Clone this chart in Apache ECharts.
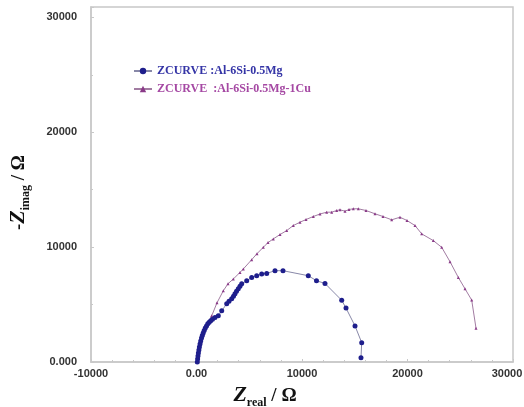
<!DOCTYPE html>
<html>
<head>
<meta charset="utf-8">
<script src="https://cdn.jsdelivr.net/npm/echarts@6/dist/echarts.min.js"></script>
<style>
  html, body { margin: 0; padding: 0; background: #fff; }
  #chart { width: 524px; height: 407px; }
</style>
</head>
<body>
<div id="chart"></div>
<script>
// 两条阻抗谱曲线（Nyquist），数值为从图上读取的估计值 [Zreal, -Zimag]
const seriesNames = ["ZCURVE :Al-6Si-0.5Mg", "ZCURVE  :Al-6Si-0.5Mg-1Cu"];

const mgPoints = [
  [76, 0], [104, 262], [142, 524], [180, 786], [227, 1048], [275, 1310],
  [332, 1572], [398, 1834], [474, 2096], [550, 2315], [635, 2533], [730, 2751],
  [834, 2969], [948, 3144], [1071, 3319], [1204, 3467], [1346, 3598], [1517, 3712],
  [1754, 3869], [2066, 4017], [2389, 4454], [2863, 5066], [3081, 5284], [3336, 5502],
  [3507, 5721], [3649, 5939], [3792, 6158], [3962, 6376], [4123, 6594], [4284, 6812],
  [4758, 7074], [5232, 7362], [5706, 7511], [6180, 7660], [6654, 7712], [7441, 7948],
  [8199, 7948], [10597, 7511], [11374, 7074], [12180, 6838], [13763, 5371],
  [14171, 4690], [15024, 3144], [15659, 1686], [15592, 376]
];

const cuPoints = [
  [50, 0], [142, 524], [284, 1135], [427, 1747], [616, 2358], [806, 2882],
  [1090, 3406], [1441, 4017], [1943, 5153], [2540, 6201], [2986, 6812], [3488, 7223],
  [4123, 7799], [4436, 8096], [5232, 8908], [5735, 9432], [6332, 9983], [6777, 10393],
  [7280, 10716], [7915, 11092], [8550, 11441], [9175, 11878], [9810, 12166],
  [10379, 12402], [11071, 12664], [11706, 12882], [12341, 13039], [12815, 13039],
  [13289, 13188], [13602, 13249], [14076, 13127], [14455, 13275], [14863, 13336],
  [15336, 13336], [16066, 13188], [16919, 12900], [17678, 12664], [18502, 12376],
  [19289, 12603], [19953, 12314], [20711, 11878], [21346, 11153], [22445, 10568],
  [23242, 9983], [24028, 8734], [24815, 7362], [25450, 6376], [26085, 5389],
  [26493, 2943]
];

// 坐标轴刻度
const xTicks = { min: -10000, max: 30000, step: 10000 };
const yTicks = { min: 0, max: 30900, step: 10000 };

const colors = {
  mgMark: "#1e1e8c",
  mgLine: "#8888a8",
  mgText: "#3434a6",
  cuMark: "#8a3a88",
  cuLine: "#a27ca2",
  cuText: "#a548a3",
  frame: "#c8c8c8",
  label: "#333333"
};

const chart = echarts.init(document.getElementById("chart"));

const tickLabel = {
  color: colors.label,
  fontFamily: "Liberation Sans",
  fontWeight: "bold",
  fontSize: 11
};

const nameRich = {
  a: { fontFamily: "Liberation Serif", fontWeight: "bold", fontSize: 19, color: "#111", verticalAlign: "bottom" },
  z: { fontFamily: "Liberation Serif", fontStyle: "italic", fontWeight: "bold", fontSize: 22, color: "#111", verticalAlign: "bottom" },
  s: { fontFamily: "Liberation Serif", fontWeight: "bold", fontSize: 12, color: "#111", verticalAlign: "bottom", padding: [0, 0, -3, 0] },
  n: { fontFamily: "Liberation Serif", fontWeight: "bold", fontSize: 19, color: "#111", verticalAlign: "bottom" }
};

const option = {
  animation: false,
  backgroundColor: "#ffffff",
  grid: {
    left: 91,
    right: 11,
    top: 7,
    bottom: 45,
    show: true,
    borderColor: colors.frame,
    borderWidth: 1.5,
    outerBoundsMode: "none"
  },
  legend: {
    orient: "vertical",
    left: 128,
    top: 60,
    itemGap: 6,
    itemWidth: 18,
    itemHeight: 8,
    textStyle: {
      fontFamily: "Liberation Serif",
      fontWeight: "bold",
      fontSize: 12
    },
    data: [
      { name: seriesNames[0], textStyle: { color: colors.mgText } },
      { name: seriesNames[1], textStyle: { color: colors.cuText } }
    ]
  },
  xAxis: {
    type: "value",
    min: xTicks.min,
    max: xTicks.max,
    interval: xTicks.step,
    name: "{z|Z}{s|real}{n| / Ω}",
    nameLocation: "middle",
    nameGap: 19,
    nameTextStyle: { padding: [0, 74, 0, 0], rich: nameRich },
    axisLine: { onZero: false, lineStyle: { color: colors.frame, width: 1.5 } },
    axisTick: { inside: true, length: 3, lineStyle: { color: colors.frame } },
    minorTick: { show: true, splitNumber: 5, length: 2, lineStyle: { color: colors.frame } },
    splitLine: { show: false },
    axisLabel: Object.assign({}, tickLabel, {
      margin: 6,
      formatter: v => (v === 0 ? "0.00" : v === xTicks.max ? "{m|" + v + "}" : String(v)),
      rich: { m: Object.assign({}, tickLabel, { padding: [0, 12, 0, 0] }) }
    })
  },
  yAxis: {
    type: "value",
    min: yTicks.min,
    max: yTicks.max,
    interval: yTicks.step,
    name: "{a|-}{z|Z}{s|imag}{n| / Ω}",
    nameLocation: "middle",
    nameGap: 62,
    nameTextStyle: { padding: [0, 16, 0, 0], rich: nameRich },
    axisLine: { onZero: false, lineStyle: { color: colors.frame, width: 1.5 } },
    axisTick: { inside: true, length: 3, lineStyle: { color: colors.frame } },
    minorTick: { show: true, splitNumber: 2, length: 2, lineStyle: { color: colors.frame } },
    splitLine: { show: false },
    axisLabel: Object.assign({}, tickLabel, {
      margin: 14,
      showMaxLabel: false,
      formatter: v => (v === 0 ? "0.000" : String(v))
    })
  },
  series: [
    {
      name: seriesNames[1],
      type: "line",
      data: cuPoints,
      symbol: "triangle",
      symbolSize: 3,
      showAllSymbol: true,
      itemStyle: { color: colors.cuMark },
      lineStyle: { color: colors.cuLine, width: 1 },
      z: 2
    },
    {
      name: seriesNames[0],
      type: "line",
      data: mgPoints,
      symbol: "circle",
      symbolSize: 5,
      showAllSymbol: true,
      itemStyle: { color: colors.mgMark },
      lineStyle: { color: colors.mgLine, width: 1 },
      z: 3
    }
  ]
};

chart.setOption(option);
</script>
</body>
</html>
